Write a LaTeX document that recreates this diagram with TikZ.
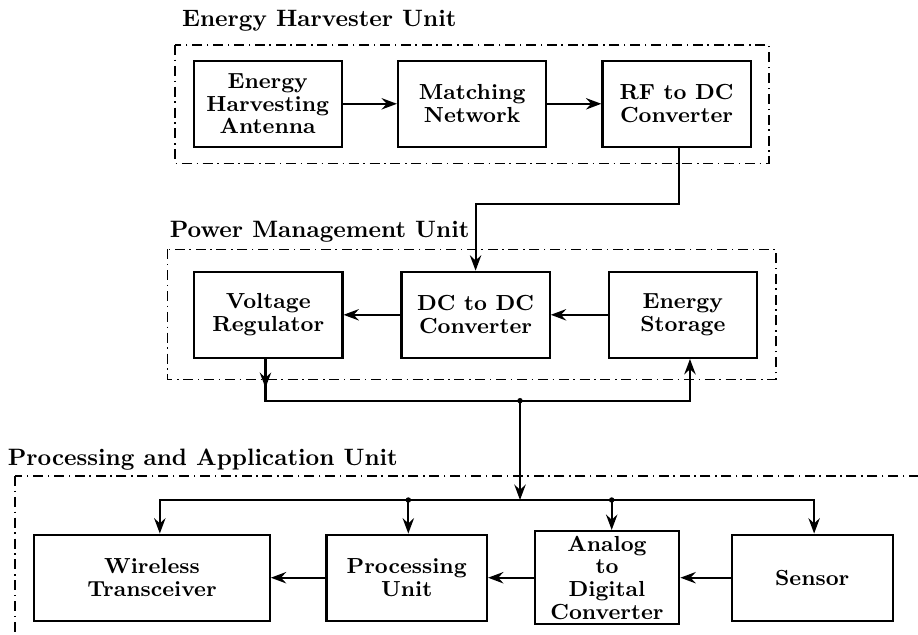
\documentclass[tikz,border=0pt]{standalone}
\usepackage{tikz}
\usetikzlibrary{arrows.meta,positioning,calc}

\begin{document}
\begin{tikzpicture}[x=0.4219pt,y=-0.4219pt,
  blk/.style={draw,line width=0.95pt,minimum width=62.5pt,minimum height=36.3pt,align=center,inner sep=2pt,font=\fontsize{9.2}{9.6}\selectfont\bfseries},
  unit/.style={draw,line width=0.5pt,dash pattern=on 4.2pt off 2pt on 0.6pt off 2pt},
  ttl/.style={anchor=base west,inner sep=0pt,font=\bfseries},
  flow/.style={->,line width=0.9pt},
  >={Stealth[length=6.5pt,width=4.8pt,inset=2.2pt]},
  node distance=22.8pt]
\path[use as bounding box,clip] (0,0) rectangle (918,634);

% unit frames and titles
\draw[unit] (175,45) rectangle (769,163.3);
\draw[unit] (167.3,249.3) rectangle (776,379.3);
\draw[unit] (15,476) rectangle (940,660);
\node[ttl] (tharv) at (181.7,26.7) {Energy Harvester Unit};
\node[ttl] (tpow) at (169.3,237.7) {Power Management Unit};
\node[ttl] (tproc) at (7.3,465) {Processing and Application Unit};

% harvester
\node[blk] (eha) at (267.7,103.8) {Energy\\Harvesting\\Antenna};
\node[blk,right=of eha] (mn) {Matching\\Network};
\node[blk,right=of mn] (rf) {RF to DC\\Converter};

% power management
\node[blk] (vr) at (268.3,314.8) {Voltage\\Regulator};
\node[blk,right=24pt of vr] (dc) {DC to DC\\Converter};
\node[blk,right=24pt of dc] (es) {Energy\\Storage};

% processing and application
\node[blk,minimum width=99.3pt] (wt) at (152,577.7) {Wireless\\Transceiver};
\node[blk,minimum width=67.7pt,right=23pt of wt] (pu) {Processing\\Unit};
\node[blk,minimum width=61pt,right=19.2pt of pu] (adc) {Analog\\to\\Digital\\Converter};
\node[blk,minimum width=67.9pt,right=21.2pt of adc] (sen) {Sensor};

\foreach \x/\y in {eha/mn,mn/rf,dc/vr,es/dc,sen/adc,adc/pu,pu/wt} \draw[flow] (\x) -- (\y);

% supply lines
\coordinate (turn) at (678.3,204);
\coordinate (jn) at (520,400.7);
\coordinate (bus) at (520,500);
\coordinate (dpu) at (408.3,500);
\coordinate (dadc) at (611.7,500);
\draw[flow] ([xshift=1pt]rf.south) -- ([xshift=1pt]rf.south |- turn) -| (dc.north);
\draw[flow] ([xshift=-1.2pt]vr.south) -- ++(0,29);
\draw[flow] ([xshift=-1.2pt]vr.south) |- (jn) -| ([xshift=3pt]es.south);
\draw[flow] (jn) -- (bus);
\draw[flow] (bus) -| ([xshift=3.3pt]wt.north);
\draw[flow] (bus) -| ([xshift=0.8pt]sen.north);
\draw[flow] (dpu) -- (dpu |- pu.north);
\draw[flow] (dadc) -- (dadc |- adc.north);
\foreach \p in {jn,dpu,dadc} \fill (\p) circle (1.15pt);
\end{tikzpicture}
\end{document}
